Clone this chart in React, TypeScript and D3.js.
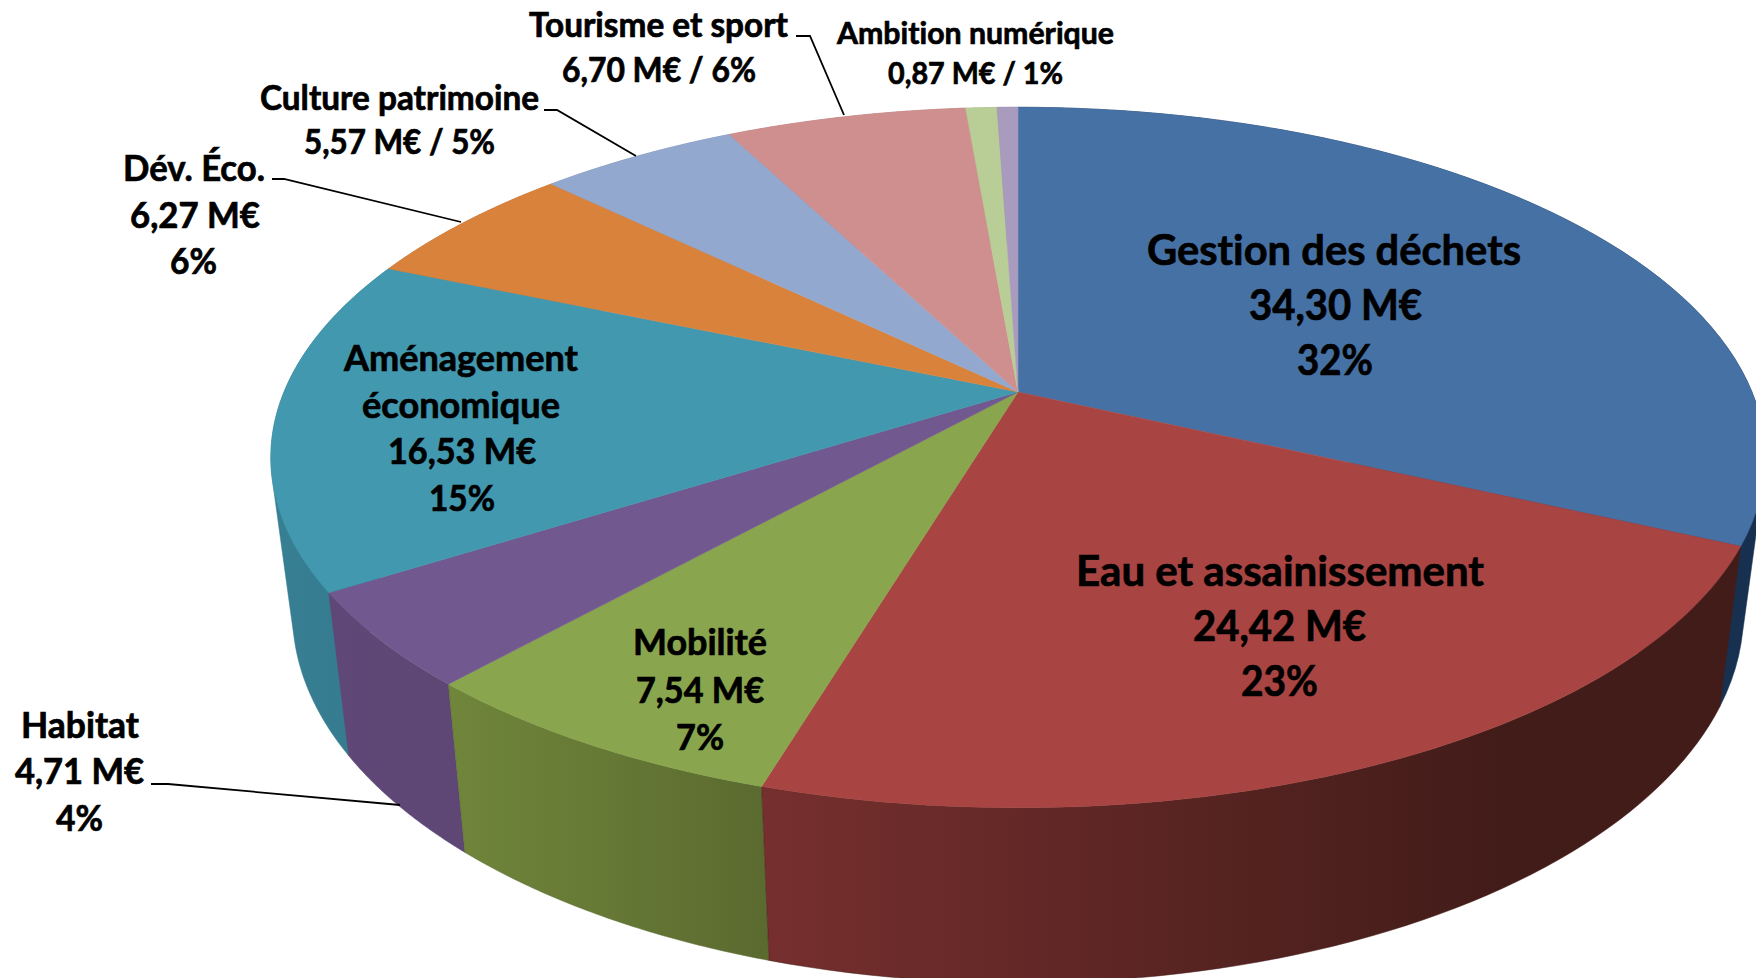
import React, { useMemo } from "react";
import * as d3 from "d3";

const categories = ["Gestion des déchets","Eau et assainissement","Mobilité","Habitat","Aménagement économique","Dév. Éco.","Culture patrimoine","Tourisme et sport","Ambition numérique","Autre"];
const values = [34.30,24.42,7.54,4.71,16.53,6.27,5.57,6.70,0.87,0.58];
const topColors = ["#4671A5","#A84442","#89A54E","#71588F","#4198AF","#D8823C","#93A8CE","#CE8F8E","#B9CD96","#A99BBD"];
const wallFrom = ["#1E3A5F","#762F2E","#70863A","#5F4777","#377F93","#B86F33","#7A8DAD","#AF7B7A","#9BAC7E","#8E82A0"];
const wallTo = ["#17304F","#421C19","#5B6B30","#5E4675","#367A8E","#B86F33","#7A8DAD","#AF7B7A","#9BAC7E","#8E82A0"];

// [text, left, right, baseline, size] in reference px
const labelLines: [string, number, number, number, number][] = [
  ["Gestion des déchets",1147,1521,265,42],["34,30 M€",1249,1422,320,42],["32%",1297,1373,375,42],
  ["Eau et assainissement",1076,1484,586,42],["24,42 M€",1193,1366,641,42],["23%",1241,1318,696,42],
  ["Mobilité",633,767,655,36],["7,54 M€",636,764,703,36],["7%",676,724,750,36],
  ["Aménagement",344,578,371,36],["économique",362,560,418,36],["16,53 M€",388,536,464,36],["15%",429,495,511,36],
  ["Dév. Éco.",123,265,181,36],["6,27 M€",130,260,228,36],["6%",170,217,274,36],
  ["Culture patrimoine",260,539,110,34],["5,57 M€ / 5%",304,495,154,34],
  ["Tourisme et sport",529,788,37,34],["6,70 M€ / 6%",562,756,82,34],
  ["Ambition numérique",837,1114,44,31],["0,87 M€ / 1%",888,1063,84,31],
  ["Habitat",21,139,738,36],["4,71 M€",15,144,784,36],["4%",56,103,831,36],
];
const leaders: [number, number][][] = [
  [[796,36],[810,36],[844,115]],
  [[544,110],[557,110],[636,156]],
  [[272,179],[284,179],[461,222]],
  [[151,784],[168,784],[400,805]],
];

const W = 1756, H = 978;
const cx = 1018, cy = 392, a = 734, b = 338, k = 0.187;
const xShrink = 0.971, depth0 = 163, depthSlope = 0.056, depthRef = 591;
// walls drawn first because their outlines wrap around the side of the disc
const wallOrder = [4, 0, 9, 8, 7, 6, 5, 3, 2, 1];
const hullWalls = [0, 4];

function top(t: number): [number, number] {
  const u = Math.sin(t), v = -Math.cos(t), w = 1 - k * v;
  return [cx + (a * u) / w, cy + (b * v) / w];
}
function bottom(t: number): [number, number] {
  const [x, y] = top(t);
  return [cx + xShrink * (x - cx), y + depth0 + depthSlope * (y - depthRef)];
}
const samples = (s: number, e: number) => d3.range(0, 61).map((i) => s + ((e - s) * i) / 60);

export default function App() {
  const arcs = useMemo(() => d3.pie<number>().sort(null).startAngle(0).endAngle(2 * Math.PI)(values), []);
  const line = d3.line();
  return (
    <svg width={W} height={H} viewBox={`0 0 ${W} ${H}`} style={{ position: "absolute", left: 0, top: 0, display: "block", background: "#fff" }}>
      <defs>
        {arcs.map((d, i) => {
          const xs = samples(d.startAngle, d.endAngle).map((t) => top(t)[0]);
          const lo = d3.min(xs) as number;
          const hi = i === 1 ? 1500 : (d3.max(xs) as number);
          return (
            <linearGradient key={i} id={`wall${i}`} gradientUnits="userSpaceOnUse" x1={lo} x2={hi} y1={0} y2={0}>
              <stop offset="0" stopColor={wallFrom[i]} />
              <stop offset="1" stopColor={wallTo[i]} />
            </linearGradient>
          );
        })}
      </defs>
      {wallOrder.map((i) => {
        const d = arcs[i];
        const ts = samples(d.startAngle, d.endAngle);
        let pts: [number, number][] = [...ts.map(top), ...ts.slice().reverse().map(bottom)];
        if (hullWalls.includes(i)) pts = d3.polygonHull(pts) as [number, number][];
        return <path key={`w${i}`} d={line(pts) + "Z"} fill={`url(#wall${i})`} stroke={wallTo[i]} strokeWidth={0.5} />;
      })}
      {arcs.map((d, i) => {
        const pts: [number, number][] = [[cx, cy], ...samples(d.startAngle, d.endAngle).map(top)];
        return <path key={`t${i}`} d={line(pts) + "Z"} fill={topColors[i]} stroke={topColors[i]} strokeWidth={0.5}><title>{categories[i]}</title></path>;
      })}
      {leaders.map((p, i) => <path key={i} d={line(p) as string} fill="none" stroke="#000" strokeWidth={1.8} />)}
      <g fontFamily="Lato, 'Open Sans', sans-serif" fontWeight={700} fill="#000" stroke="#000" strokeWidth={0.7} style={{ fontVariantLigatures: "none" }}>
        {labelLines.map(([t, l, r, y, s], i) => (
          <text key={i} x={l} y={y} fontSize={s} textLength={r - l} lengthAdjust="spacingAndGlyphs">{t}</text>
        ))}
      </g>
    </svg>
  );
}
